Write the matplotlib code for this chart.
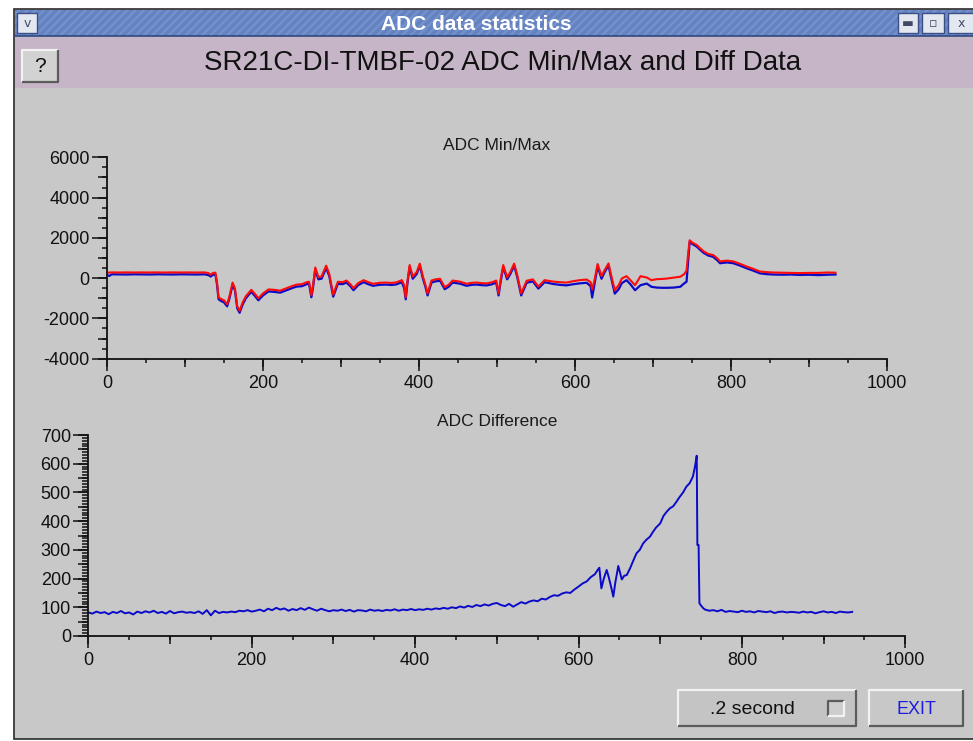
import matplotlib.pyplot as plt
from matplotlib.patches import Rectangle
from matplotlib.ticker import MultipleLocator

# ---- data ----
top_x = [0, 3, 6, 15, 25, 35, 45, 55, 65, 75,
         85, 95, 105, 115, 125, 130, 133, 136, 139, 141,
         143, 147, 150, 154, 157, 161, 164, 167, 170, 174,
         178, 185, 190, 194, 200, 207, 214, 222, 230, 237,
         243, 250, 256, 259, 262, 264, 267, 271, 275, 281,
         285, 290, 296, 302, 307, 312, 316, 322, 329, 335,
         341, 350, 358, 365, 371, 378, 381, 383, 385, 388,
         392, 397, 401, 405, 408, 411, 416, 421, 427, 433,
         438, 443, 452, 461, 468, 474, 481, 487, 494, 499,
         502, 505, 508, 513, 517, 522, 526, 531, 538, 546,
         553, 561, 572, 580, 589, 598, 606, 615, 620, 622,
         625, 629, 634, 638, 643, 646, 651, 656, 660, 666,
         671, 677, 684, 692, 698, 705, 712, 718, 726, 735,
         740, 743, 745, 747, 751, 756, 760, 765, 771, 777,
         782, 786, 795, 803, 811, 820, 828, 837, 845, 854,
         865, 877, 888, 900, 912, 924, 934]

adc_max = [270, 280, 285, 280, 285, 280, 285, 280, 285, 280,
           285, 280, 285, 280, 285, 250, 170, 260, 270, -200,
           -950, -1050, -1100, -1300, -900, -220, -500, -1400, -1620, -1200,
           -900, -580, -800, -1000, -760, -560, -580, -620, -500, -400,
           -320, -300, -200, -180, -850, -400, 530, 50, 80, 620,
           200, -820, -180, -200, -120, -300, -500, -250, -100, -200,
           -280, -230, -220, -240, -210, -100, -350, -950, -200, 650,
           80, 300, 720, 80, -300, -760, -120, -60, -30, -450,
           -330, -120, -170, -280, -230, -220, -250, -260, -200, -120,
           -760, 0, 650, 40, 300, 720, 150, -760, -130, -60,
           -420, -100, -170, -200, -220, -150, -100, -70, -200, -560,
           -100, 700, 100, 400, 730, 200, -600, -350, -20, 100,
           -100, -350, 100, 30, -100, -50, -40, -20, 20, 70,
           200, 370, 1200, 1880, 1750, 1650, 1500, 1330, 1200, 1150,
           1000, 830, 870, 830, 720, 580, 470, 330, 300, 280,
           270, 260, 250, 260, 260, 280, 270]

adc_min = [150, 110, 190, 185, 180, 190, 185, 180, 190, 185,
           180, 190, 185, 180, 190, 150, 80, 170, 180, -300,
           -1050, -1150, -1200, -1400, -1000, -330, -600, -1500, -1720, -1300,
           -1000, -680, -900, -1100, -860, -660, -680, -720, -600, -500,
           -420, -400, -300, -280, -950, -500, 420, -60, -30, 500,
           100, -920, -280, -300, -220, -400, -600, -350, -200, -300,
           -380, -330, -320, -340, -310, -200, -500, -1050, -300, 550,
           -30, 200, 620, -20, -400, -860, -220, -160, -130, -550,
           -430, -220, -270, -380, -330, -320, -350, -360, -300, -220,
           -860, -100, 550, -60, 200, 620, 50, -860, -230, -160,
           -520, -200, -290, -330, -360, -300, -260, -230, -400, -960,
           -300, 600, -30, 300, 630, 80, -770, -550, -250, -100,
           -300, -600, -350, -270, -430, -470, -480, -480, -470, -430,
           -260, -180, 800, 1800, 1680, 1570, 1420, 1250, 1120, 1060,
           900, 740, 780, 740, 630, 490, 380, 240, 200, 180,
           170, 180, 160, 170, 150, 170, 180]

diff_x = [0, 5, 10, 15, 20, 25, 30, 35, 40, 45, 50, 55, 60, 65, 70, 75, 80, 85, 90, 95,
          100, 105, 110, 115, 120, 125, 130, 135, 140, 145, 150, 155, 160, 165, 170, 175, 180, 185, 190, 195,
          200, 205, 210, 215, 220, 225, 230, 235, 240, 245, 250, 255, 260, 265, 270, 275, 280, 285, 290, 295,
          300, 305, 310, 315, 320, 325, 330, 335, 340, 345, 350, 355, 360, 365, 370, 375, 380, 385, 390, 395,
          400, 405, 410, 415, 420, 425, 430, 435, 440, 445, 450, 455, 460, 465, 470, 475, 480, 485, 490, 495,
          500, 505, 510, 515, 520, 525, 530, 535, 540, 545, 550, 555, 560, 565, 570, 575, 580, 585, 590, 595,
          600, 605, 610, 615, 620,
          623, 625.5, 628, 631, 634.5, 637, 640, 642.6, 645, 648.7, 653, 656, 659, 663, 667, 671, 675, 679, 683,
          687.5, 691, 695, 700, 704, 708, 712, 716, 720, 724, 728, 732, 736, 740, 742.6, 744.7, 745.5, 747, 748,
          750, 753,
          755, 760, 765, 770, 775, 780, 785, 790, 795, 800, 805, 810, 815, 820, 825, 830, 835, 840, 845, 850,
          855, 860, 865, 870, 875, 880, 885, 890, 895, 900, 905, 910, 915, 920, 925, 930, 935]

adc_diff = [82, 78, 85, 80, 83, 76, 84, 80, 87, 79, 82, 75, 85, 80, 86, 82, 88, 80, 84, 78,
            87, 79, 83, 85, 81, 83, 80, 86, 77, 90, 72, 88, 80, 84, 82, 85, 83, 88, 86, 90,
            85, 88, 92, 86, 95, 90, 98, 92, 96, 88, 94, 90, 97, 91, 99, 93, 88, 95, 90, 86,
            90, 88, 92, 87, 91, 85, 90, 89, 86, 92, 88, 90, 87, 91, 89, 93, 88, 92, 90, 94,
            90, 93, 91, 95, 92, 96, 94, 98, 95, 100, 97, 103, 99, 105, 101, 108, 104, 110, 106, 112,
            115, 108, 104, 112, 102, 110, 118, 113, 120, 124, 121, 130, 127, 136, 142, 140, 148, 152, 150, 162,
            172, 183, 190, 205, 215,
            228, 238, 166, 200, 230, 205, 170, 137, 185, 244, 197, 210, 212, 235, 262, 288, 300, 322, 335,
            346, 362, 378, 392, 418, 433, 445, 452, 468, 485, 500, 520, 532, 555, 590, 628, 317, 317, 114,
            106, 96,
            92, 88, 90, 86, 91, 84, 87, 85, 83, 88, 84, 86, 82, 87, 85, 83, 86, 80, 84, 85,
            82, 84, 83, 81, 85, 82, 84, 79, 83, 86, 82, 84, 80, 85, 83, 82, 84]

plt.rcParams['font.family'] = ['Liberation Sans', 'DejaVu Sans']
plt.rcParams['axes.unicode_minus'] = False
plt.rcParams['hatch.linewidth'] = 2.5

W, H = 973, 741
fig = plt.figure(figsize=(W / 100, H / 100), dpi=100, facecolor='white')

# window chrome, in pixel coordinates
bg = fig.add_axes([0, 0, 1, 1], zorder=0)
bg.set_xlim(0, W)
bg.set_ylim(H, 0)
bg.axis('off')


def box(x0, y0, x1, y1, **kw):
    bg.add_patch(Rectangle((x0, y0), x1 - x0, y1 - y0, **kw))


def bevel(x0, y0, x1, y1, face, light='#f2f2f2', dark='#5c5c5c'):
    box(x0, y0, x1, y1, facecolor=face, edgecolor='none')
    bg.plot([x0, x0, x1], [y1, y0, y0], color=light, lw=1.6, solid_capstyle='butt')
    bg.plot([x0, x1, x1], [y1, y1, y0], color=dark, lw=1.6, solid_capstyle='butt')


box(14, 9, 975, 739, facecolor='#c8c8c8', edgecolor='#2a2a2a', lw=1.2)
box(15, 10, 975, 36, facecolor='#7391cc', edgecolor='#6482c0', hatch='////', lw=0)
bg.plot([15, 975], [36, 36], color='#304880', lw=1.2)
box(15, 37, 975, 88, facecolor='#c6b4c7', edgecolor='none')

# title bar buttons
for x0, x1, glyph in [(17, 37, 'v'), (898, 918, '▬'), (922, 944, '▫'), (948, 975, 'x')]:
    box(x0, 13, x1, 33, facecolor='#e3e7f0', edgecolor='#3c4e86', lw=1.0)
    bg.text((x0 + x1) / 2, 23.5, glyph, ha='center', va='center', fontsize=9,
            color='#404a66', family=['DejaVu Sans'])

bg.text(476, 24, 'ADC data statistics', ha='center', va='center', fontsize=15,
        fontweight='bold', color='white')

bevel(22, 50, 58, 82, '#d2d2d2')
bg.text(40, 66, '?', ha='center', va='center', fontsize=15, color='#111111')
bg.text(503, 63, 'SR21C-DI-TMBF-02 ADC Min/Max and Diff Data', ha='center',
        va='center', fontsize=20, color='#111111')

# bottom buttons
bevel(678, 690, 856, 726, '#c4c4c4')
bevel(828, 701, 844, 716, '#cdcdcd', light='#5c5c5c', dark='#f2f2f2')
bg.text(752, 710, '.2 second', ha='center', va='center', fontsize=14, color='#111111')
bevel(869, 690, 963, 726, '#c8c8c8')
bg.text(916, 709, 'EXIT', ha='center', va='center', fontsize=13, color='#1c1ce0')

bg.text(497, 145, 'ADC Min/Max', ha='center', va='center', fontsize=12.5, color='#1a1a1a')
bg.text(497, 421, 'ADC Difference', ha='center', va='center', fontsize=12.5, color='#1a1a1a')


def style(ax, ystep, ymid, yminor, ylen):
    ax.set_facecolor('none')
    for side in ('top', 'right'):
        ax.spines[side].set_visible(False)
    for side in ('left', 'bottom'):
        ax.spines[side].set_linewidth(1.3)
        ax.spines[side].set_color('#111111')
    ax.xaxis.set_major_locator(MultipleLocator(200))
    ax.xaxis.set_minor_locator(MultipleLocator(50))
    ax.yaxis.set_major_locator(MultipleLocator(ystep))
    ax.yaxis.set_minor_locator(MultipleLocator(yminor))
    ax.tick_params(axis='x', which='major', length=8.6, width=1.1, pad=3.2,
                   labelsize=13, colors='#111111')
    ax.tick_params(axis='x', which='minor', length=2.9, width=1.1, colors='#111111')
    ax.tick_params(axis='y', which='major', length=ylen[0], width=1.1, pad=1.7,
                   labelsize=13, colors='#111111')
    ax.tick_params(axis='y', which='minor', length=ylen[2], width=1.1, colors='#111111')
    # medium-length ticks between the labelled ones
    sx = ax.secondary_xaxis('bottom')
    sx.xaxis.set_major_locator(MultipleLocator(100))
    sx.tick_params(length=5.8, width=1.1, labelbottom=False, colors='#111111')
    sx.spines['bottom'].set_visible(False)
    sy = ax.secondary_yaxis('left')
    sy.yaxis.set_major_locator(MultipleLocator(ymid))
    sy.tick_params(length=ylen[1], width=1.1, labelleft=False, colors='#111111')
    sy.spines['left'].set_visible(False)


ax1 = fig.add_axes([107 / W, 1 - 358.7 / H, 780 / W, 201.4 / H], zorder=1)
ax1.plot(top_x, adc_min, color='#0a0ac8', lw=1.6)
ax1.plot(top_x, adc_max, color='#ff0a0a', lw=1.5)
ax1.set_xlim(0, 1000)
ax1.set_ylim(-4000, 6000)
style(ax1, 2000, 1000, 500, (10.8, 6.5, 3.6))

ax2 = fig.add_axes([88.3 / W, 1 - 636 / H, 817 / W, 201 / H], zorder=1)
ax2.plot(diff_x, adc_diff, color='#0a0ac8', lw=1.4)
ax2.set_xlim(0, 1000)
ax2.set_ylim(0, 700)
style(ax2, 100, 50, 10, (10.8, 7.0, 4.0))

fig.savefig('out.png', dpi=100, facecolor='white')
